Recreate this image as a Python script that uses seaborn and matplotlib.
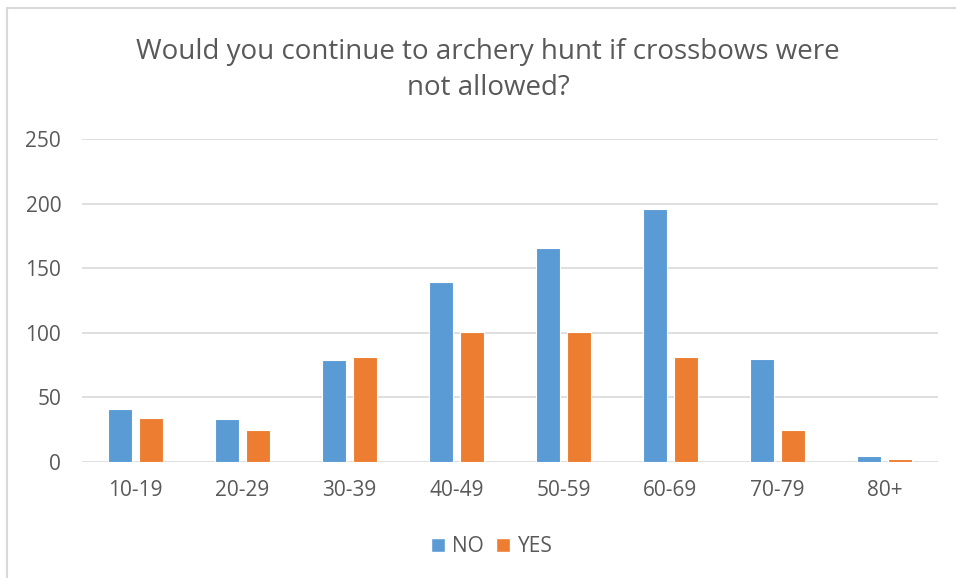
import matplotlib
matplotlib.use('Agg')
import matplotlib.pyplot as plt
import seaborn as sns
import pandas as pd
from matplotlib.lines import Line2D

# Datos
edades = ['10-19', '20-29', '30-39', '40-49', '50-59', '60-69', '70-79', '80+']
no_vals = [41, 33, 79, 139, 166, 196, 80, 5]
yes_vals = [34, 25, 81, 101, 101, 81, 25, 2]
series = ['NO', 'YES']
colores = ['#5B9BD5', '#ED7D31']
titulo = 'Would you continue to archery hunt if crossbows were\nnot allowed?'

df = pd.DataFrame({
    'edad': edades * 2,
    'valor': no_vals + yes_vals,
    'serie': ['NO'] * len(edades) + ['YES'] * len(edades),
})

sns.set_theme(style='white')
plt.rcParams['font.family'] = ['Open Sans', 'DejaVu Sans']
gris = '#595959'

fig = plt.figure(figsize=(9.56, 5.78), dpi=100)
ax = fig.add_axes([82 / 956, 1 - 462 / 578, (938 - 82) / 956, (462 - 139) / 578])

sns.barplot(data=df, x='edad', y='valor', hue='serie', order=edades, hue_order=series,
            palette=colores, width=0.57, gap=0.2, edgecolor='white', linewidth=0.8,
            saturation=1, ax=ax, zorder=3)

ax.set_ylim(0, 250)
ax.set_yticks(range(0, 251, 50))
ax.set_xlim(-0.5, len(edades) - 0.5)
ax.yaxis.grid(True, color='#D9D9D9', linewidth=1.2, zorder=0)
ax.set_axisbelow(True)
for s in ax.spines.values():
    s.set_visible(False)
ax.set_xlabel('')
ax.set_ylabel('')
ax.tick_params(axis='both', length=0, labelsize=15, labelcolor=gris)
ax.tick_params(axis='y', pad=15)
ax.tick_params(axis='x', pad=13)

# Leyenda abajo
ax.get_legend().remove()
handles = [Line2D([0], [0], marker='s', color='w', markerfacecolor=c, markersize=10, linewidth=0)
           for c in colores]
fig.legend(handles, series, loc='center', bbox_to_anchor=(492 / 956, 1 - 547 / 578), ncol=2,
           frameon=False, fontsize=15, labelcolor=gris, handlelength=0.6,
           handletextpad=0.4, columnspacing=0.6)

fig.text(488 / 956, 1 - 70 / 578, titulo, ha='center', va='center', fontsize=20,
         color=gris, linespacing=1.42)

# Borde del gráfico
fig.add_artist(Line2D([7 / 956, 7 / 956], [0, 1 - 8 / 578], transform=fig.transFigure,
                      color='#D9D9D9', linewidth=1.5))
fig.add_artist(Line2D([7 / 956, 1], [1 - 8 / 578, 1 - 8 / 578], transform=fig.transFigure,
                      color='#D9D9D9', linewidth=1.5))

fig.savefig('out.png', dpi=100)
